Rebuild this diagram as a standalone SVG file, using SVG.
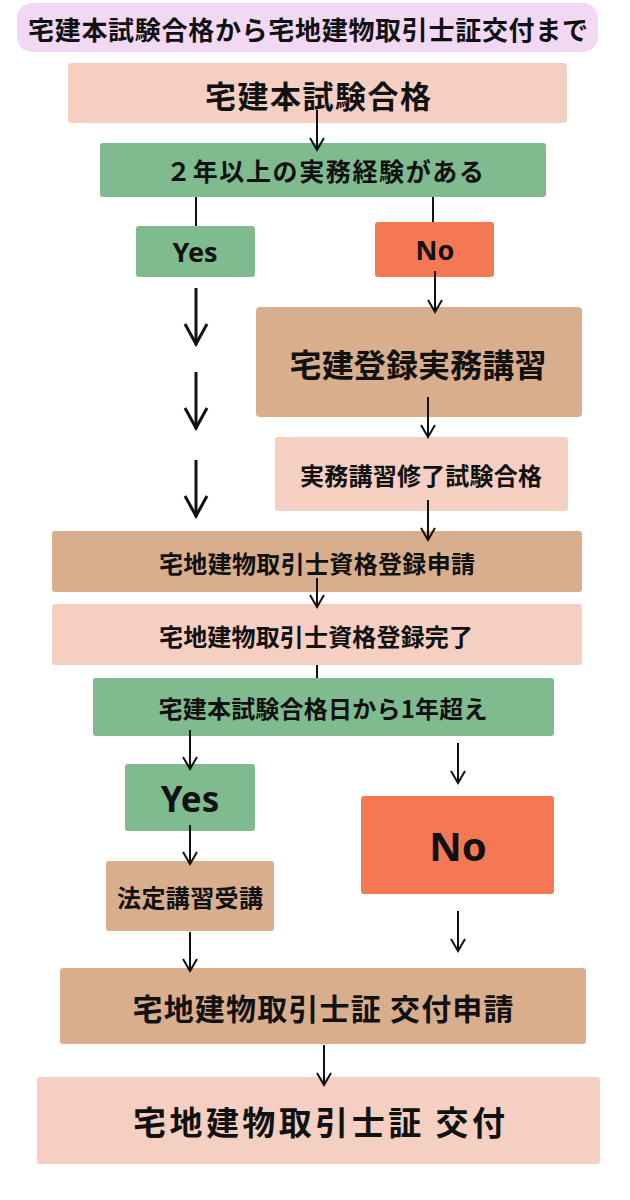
<svg xmlns="http://www.w3.org/2000/svg" width="630" height="1200" viewBox="0 0 630 1200">
<style>
.t{font-family:"Noto Sans CJK JP","Noto Sans",sans-serif;font-weight:700;fill:#111;text-anchor:middle;dominant-baseline:central}
.lat{font-family:"Noto Sans","Noto Sans CJK JP",sans-serif;font-weight:700;fill:#111;text-anchor:middle;dominant-baseline:central}
.pink{fill:#f5cfc2}
.green{fill:#80bb8f}
.orange{fill:#f47853}
.tan{fill:#d9ae8c}
.c{stroke:#111;stroke-width:2;fill:none}
.cb{stroke:#111;stroke-width:3;fill:none}
</style>
<defs>
<marker id="ah" viewBox="-2 -9 16 18" refX="12" refY="0" markerWidth="16" markerHeight="18" markerUnits="userSpaceOnUse" orient="auto">
<path d="M0,-7 L12,0 L0,7" fill="none" stroke="#111" stroke-width="2"/>
</marker>
<marker id="ahb" viewBox="-3 -13 26 26" refX="21" refY="0" markerWidth="26" markerHeight="26" markerUnits="userSpaceOnUse" orient="auto">
<path d="M0,-11 L20,0 L0,11" fill="none" stroke="#111" stroke-width="3"/>
</marker>
</defs>
<rect width="630" height="1200" fill="#ffffff"/>

<g id="title">
<rect x="17" y="3" width="581" height="49" rx="15" fill="#f3d8f4"/>
<text class="t" x="308" y="28" font-size="26" textLength="560">宅建本試験合格から宅地建物取引士証交付まで</text>
</g>

<g id="n1">
<rect class="pink" x="68" y="63" width="499" height="60" rx="3"/>
<text class="t" x="318" y="94" font-size="31" textLength="226">宅建本試験合格</text>
</g>

<g id="n2">
<rect class="green" x="100" y="143" width="446" height="54" rx="3"/>
<text class="t" x="325" y="170" font-size="25" textLength="318">２年以上の実務経験がある</text>
</g>

<g id="yes1">
<rect class="green" x="136" y="226" width="119" height="51" rx="3"/>
<text class="lat" x="195" y="251" font-size="27">Yes</text>
</g>

<g id="no1">
<rect class="orange" x="375" y="222" width="119" height="55" rx="3"/>
<text class="lat" x="435" y="249" font-size="27">No</text>
</g>

<g id="n3">
<rect class="tan" x="256" y="307" width="326" height="110" rx="4"/>
<text class="t" x="418" y="363" font-size="32" textLength="257">宅建登録実務講習</text>
</g>

<g id="n4">
<rect class="pink" x="275" y="437" width="293" height="74" rx="3"/>
<text class="t" x="421" y="474" font-size="24" textLength="242">実務講習修了試験合格</text>
</g>

<g id="n5">
<rect class="tan" x="52" y="531" width="530" height="61" rx="3"/>
<text class="t" x="317" y="562" font-size="24" textLength="316">宅地建物取引士資格登録申請</text>
</g>

<g id="n6">
<rect class="pink" x="52" y="604" width="530" height="61" rx="3"/>
<text class="t" x="316" y="635" font-size="24" textLength="314">宅地建物取引士資格登録完了</text>
</g>

<g id="n7">
<rect class="green" x="93" y="678" width="461" height="58" rx="3"/>
<text class="t" x="323" y="707" font-size="24" textLength="329">宅建本試験合格日から1年超え</text>
</g>

<g id="yes2">
<rect class="green" x="125" y="764" width="130" height="67" rx="3"/>
<text class="lat" x="190" y="798" font-size="35">Yes</text>
</g>

<g id="no2">
<rect class="orange" x="361" y="796" width="193" height="98" rx="3"/>
<text class="lat" x="458" y="845" font-size="40">No</text>
</g>

<g id="n8">
<rect class="tan" x="106" y="861" width="168" height="70" rx="3"/>
<text class="t" x="190" y="896" font-size="24" textLength="146">法定講習受講</text>
</g>

<g id="n9">
<rect class="tan" x="60" y="968" width="526" height="76" rx="3"/>
<text class="t" x="323" y="1007" font-size="30" textLength="381">宅地建物取引士証 交付申請</text>
</g>

<g id="n10">
<rect class="pink" x="37" y="1077" width="563" height="87" rx="3"/>
<text class="t" x="319" y="1121" font-size="33" textLength="372">宅地建物取引士証 交付</text>
</g>

<g id="connectors">
<line class="c" x1="317" y1="110" x2="317" y2="150" marker-end="url(#ah)"/>
<line class="c" x1="196" y1="197" x2="196" y2="226"/>
<line class="c" x1="433" y1="197" x2="433" y2="222"/>
<line class="c" x1="435" y1="271" x2="435" y2="312" marker-end="url(#ah)"/>
<line class="cb" x1="196" y1="288" x2="196" y2="345" marker-end="url(#ahb)"/>
<line class="cb" x1="196" y1="372" x2="196" y2="429" marker-end="url(#ahb)"/>
<line class="cb" x1="196" y1="460" x2="196" y2="517" marker-end="url(#ahb)"/>
<line class="c" x1="428" y1="397" x2="428" y2="437" marker-end="url(#ah)"/>
<line class="c" x1="428" y1="500" x2="428" y2="540" marker-end="url(#ah)"/>
<line class="c" x1="317" y1="578" x2="317" y2="607" marker-end="url(#ah)"/>
<line class="c" x1="317" y1="665" x2="317" y2="678"/>
<line class="c" x1="190" y1="730" x2="190" y2="769" marker-end="url(#ah)"/>
<line class="c" x1="458" y1="743" x2="458" y2="783" marker-end="url(#ah)"/>
<line class="c" x1="190" y1="825" x2="190" y2="864" marker-end="url(#ah)"/>
<line class="c" x1="190" y1="932" x2="190" y2="971" marker-end="url(#ah)"/>
<line class="c" x1="458" y1="911" x2="458" y2="951" marker-end="url(#ah)"/>
<line class="c" x1="324" y1="1045" x2="324" y2="1085" marker-end="url(#ah)"/>
</g>
</svg>
